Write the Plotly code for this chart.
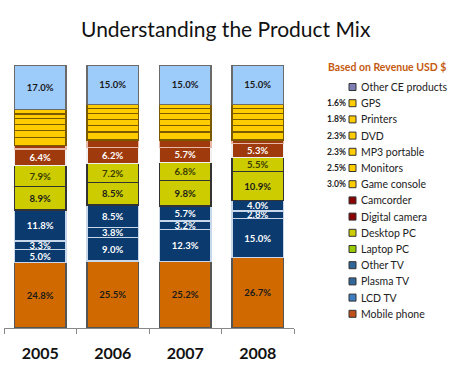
import plotly.graph_objects as go

years = ["2005", "2006", "2007", "2008"]

# stacked from bottom to top
mobile_phone = [24.8, 25.5, 25.2, 26.7]
lcd_tv = [5.0, 9.0, 12.3, 15.0]
plasma_tv = [3.3, 3.8, 3.2, 2.8]
other_tv = [11.8, 8.5, 5.7, 4.0]
laptop_pc = [8.9, 8.5, 9.8, 10.9]
desktop_pc = [7.9, 7.2, 6.8, 5.5]
digital_camera = [6.4, 6.2, 5.7, 5.3]
camcorder = [1.4, 2.8, 2.8, 1.3]
game_console = [3.0, 3.0, 3.0, 3.0]
monitors = [2.5, 2.5, 2.5, 2.5]
mp3_portable = [2.3, 2.3, 2.3, 2.3]
dvd = [2.3, 2.3, 2.3, 2.3]
printers = [1.8, 1.8, 1.8, 1.8]
gps = [1.6, 1.6, 1.6, 1.6]
other_ce = [17.0, 15.0, 15.0, 15.0]

legend_labels = ["Other CE products", "GPS", "Printers", "DVD", "MP3 portable", "Monitors",
                 "Game console", "Camcorder", "Digital camera", "Desktop PC", "Laptop PC",
                 "Other TV", "Plasma TV", "LCD TV", "Mobile phone"]
legend_pcts = ["", "1.6%", "1.8%", "2.3%", "2.3%", "2.5%", "3.0%", "", "", "", "", "", "", "", ""]
legend_colors = ["#7E7EB4", "#FFCC00", "#FFCC00", "#FFCC00", "#FFCC00", "#FFCC00", "#FFCC00",
                 "#8B0000", "#8B0000", "#CCCC00", "#99CC00", "#336699", "#336699", "#3D7DC2", "#C0501A"]

FONT = "Lato"

# series: (name, values, fill, line, show labels, text color)
series = [
    ("Mobile phone", mobile_phone, "#D06A00", "#555555", True, "#1A1A1A"),
    ("LCD TV", lcd_tv, "#0A3A6E", "#C8D8EA", True, "#FFFFFF"),
    ("Plasma TV", plasma_tv, "#0A3A6E", "#C8D8EA", True, "#FFFFFF"),
    ("Other TV", other_tv, "#0A3A6E", "#C8D8EA", True, "#FFFFFF"),
    ("Laptop PC", laptop_pc, "#CCCC00", "#333333", True, "#1A1A1A"),
    ("Desktop PC", desktop_pc, "#CCCC00", "#333333", True, "#3A3A00"),
    ("Digital camera", digital_camera, "#9E3A0C", "#F0F0F0", True, "#FFFFFF"),
    ("Camcorder", camcorder, "#9E3A0C", "#E8B8A8", False, "#FFFFFF"),
    ("Game console", game_console, "#FFCC00", "#7A5A00", False, "#000000"),
    ("Monitors", monitors, "#FFCC00", "#7A5A00", False, "#000000"),
    ("MP3 portable", mp3_portable, "#FFCC00", "#7A5A00", False, "#000000"),
    ("DVD", dvd, "#FFCC00", "#7A5A00", False, "#000000"),
    ("Printers", printers, "#FFCC00", "#7A5A00", False, "#000000"),
    ("GPS", gps, "#FFCC00", "#7A5A00", False, "#000000"),
    ("Other CE products", other_ce, "#9DCBFA", "#6A6A6A", True, "#1A1A1A"),
]

fig = go.Figure()
for name, vals, fill, line, show, tcol in series:
    fig.add_trace(go.Bar(
        x=years, y=vals, name=name, showlegend=False,
        marker=dict(color=fill, line=dict(color=line, width=1.2)),
        text=[f"<b>{v:.1f}%</b>" for v in vals] if show else None,
        textposition="inside" if show else "none",
        insidetextanchor="middle", textangle=0,
        insidetextfont=dict(family=FONT, size=9.5, color=tcol),
        width=0.71,
    ))

# plot area geometry in pixels
L, R, T, B = 4, 294, 65, 328
W, H = 465, 370

def px(x):
    return (x - L) / (R - L)

def py(y):
    return (B - y) / (B - T)

annotations = [
    dict(text="Understanding the Product Mix", x=px(226), y=py(28), xref="paper", yref="paper",
         xanchor="center", yanchor="middle",
         showarrow=False, font=dict(family=FONT, size=21, color="#111111")),
    dict(text="<b>Based on Revenue USD $</b>", x=px(326), y=py(67), xref="paper", yref="paper",
         xanchor="left", yanchor="middle", showarrow=False,
         font=dict(family=FONT, size=10.5, color="#C55A11")),
]
shapes = []
row0, step = 87, 16.2
for i, (lab, pct, col) in enumerate(zip(legend_labels, legend_pcts, legend_colors)):
    yy = row0 + i * step
    annotations.append(dict(text=lab, x=px(359), y=py(yy), xref="paper", yref="paper",
                            xanchor="left", yanchor="middle", showarrow=False,
                            font=dict(family=FONT, size=10.5, color="#222222")))
    if pct:
        annotations.append(dict(text=f"<b>{pct}</b>", x=px(348), y=py(yy), xref="paper", yref="paper",
                                xanchor="right", yanchor="middle", showarrow=False,
                                font=dict(family=FONT, size=8.5, color="#222222")))
    shapes.append(dict(type="rect", xref="paper", yref="paper",
                       x0=px(349), x1=px(356), y0=py(yy + 3.5), y1=py(yy - 3.5),
                       fillcolor=col, line=dict(color="#333333", width=1)))

fig.update_layout(
    template="none",
    width=W, height=H,
    margin=dict(l=L, r=W - R, t=T, b=H - B, autoexpand=False),
    paper_bgcolor="white", plot_bgcolor="white",
    barmode="stack", bargap=0.29,
    uniformtext=dict(minsize=9.5, mode="show"),
    annotations=annotations, shapes=shapes,
    xaxis=dict(type="category", range=[-0.5, 3.5], showline=True, linecolor="#888888", linewidth=1,
               ticks="outside", ticklen=5, tickcolor="#888888", tickson="boundaries",
               automargin=False,
               tickfont=dict(family=FONT, size=16, color="#111111"),
               tickprefix="<b>", ticksuffix="</b>", ticklabelstandoff=11, showgrid=False,
               zeroline=False),
    yaxis=dict(range=[0, 100], visible=False, showgrid=False, zeroline=False, automargin=False),
)

fig.write_html("out.html", config={"displayModeBar": False},
               post_script="document.body.style.margin='0';")
